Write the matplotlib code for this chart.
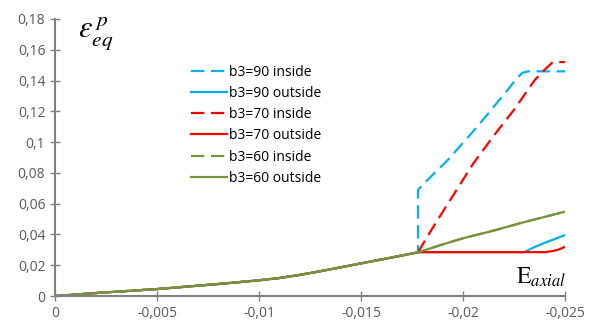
import matplotlib
matplotlib.use("Agg")
import matplotlib.pyplot as plt
from matplotlib.ticker import FixedLocator, FixedFormatter

# ---- data ----
base_x = [0, -0.0022, -0.005, -0.0081, -0.010, -0.011, -0.012, -0.013, -0.014, -0.015, -0.0165, -0.0178]
base_y = [0, 0.0021, 0.0045, 0.0079, 0.0102, 0.0117, 0.0137, 0.0161, 0.0186, 0.0212, 0.0250, 0.0284]

b90_in_x = [-0.0178, -0.0180, -0.0193, -0.0205, -0.0212, -0.0222, -0.02255, -0.0229, -0.0232, -0.0250]
b90_in_y = [0.069, 0.072, 0.089, 0.107, 0.118, 0.134, 0.140, 0.145, 0.146, 0.146]

b90_out_x = [-0.0178, -0.0230, -0.0235, -0.0240, -0.0250]
b90_out_y = [0.0285, 0.0285, 0.0318, 0.0345, 0.0396]

b70_in_x = [-0.0178, -0.0185, -0.0195, -0.0205, -0.0215, -0.0225, -0.0235, -0.0240, -0.0244, -0.0250]
b70_in_y = [0.0285, 0.044, 0.065, 0.086, 0.104, 0.121, 0.140, 0.147, 0.152, 0.152]

b70_out_x = [-0.0178, -0.0240, -0.0244, -0.0247, -0.0250]
b70_out_y = [0.0285, 0.0285, 0.0292, 0.0302, 0.032]

b60_x = [-0.0178, -0.019, -0.020, -0.0215, -0.023, -0.025]
b60_y = [0.0284, 0.0335, 0.0375, 0.0425, 0.0480, 0.0548]

xticks = [0, -0.005, -0.01, -0.015, -0.02, -0.025]
xtick_labels = ["0", "-0,005", "-0,01", "-0,015", "-0,02", "-0,025"]
yticks = [0, 0.02, 0.04, 0.06, 0.08, 0.10, 0.12, 0.14, 0.16, 0.18]
ytick_labels = ["0", "0,02", "0,04", "0,06", "0,08", "0,1", "0,12", "0,14", "0,16", "0,18"]

series = [
    ("b3=90 inside", b90_in_x, b90_in_y, "#00B0F0", True, False),
    ("b3=90 outside", b90_out_x, b90_out_y, "#00B0F0", False, False),
    ("b3=70 inside", b70_in_x, b70_in_y, "#FF0000", True, True),
    ("b3=70 outside", b70_out_x, b70_out_y, "#FF0000", False, False),
    ("b3=60 inside", b60_x, b60_y, "#77933C", True, False),
    ("b3=60 outside", b60_x, b60_y, "#77933C", False, False),
]

plt.rcParams['font.family'] = ['Open Sans', 'DejaVu Sans']
plt.rcParams['mathtext.fontset'] = 'stix'

fig = plt.figure(figsize=(5.93, 3.24), dpi=100)
ax = fig.add_axes([55/593, 28/324, 510/593, 277/324])

for label, xs, ys, color, dashed, from_base in series:
    if from_base:
        px, py = list(xs), list(ys)
    else:
        px = base_x + list(xs)
        py = base_y + list(ys)
    if dashed:
        ax.plot(px, py, color=color, lw=1.6, dashes=(6, 3), label=label)
    else:
        ax.plot(px, py, color=color, lw=1.6, label=label)

ax.set_xlim(0, -0.025)
ax.set_ylim(0, 0.18)
ax.xaxis.set_major_locator(FixedLocator(xticks))
ax.xaxis.set_major_formatter(FixedFormatter(xtick_labels))
ax.yaxis.set_major_locator(FixedLocator(yticks))
ax.yaxis.set_major_formatter(FixedFormatter(ytick_labels))

for s in ["top", "right"]:
    ax.spines[s].set_visible(False)
for s in ["left", "bottom"]:
    ax.spines[s].set_color("#808080")
    ax.spines[s].set_linewidth(1.5)
ax.tick_params(direction="inout", length=7, width=1, color="#808080",
               labelcolor="#595959", labelsize=10)
ax.tick_params(axis="x", pad=4)

leg = ax.legend(loc="upper left", bbox_to_anchor=(130/510, 1 - 40/277), frameon=False,
                fontsize=10, handlelength=2.6, handletextpad=0.2, labelspacing=0.45,
                borderaxespad=0)

fig.text(78/593, 1 - 33/324, r"$\varepsilon_{eq}^{\,p}$", fontsize=22, va="center", ha="left")
fig.text(516/593, 1 - 284/324, r"$\mathrm{E}_{axial}$", fontsize=17, va="baseline", ha="left")

fig.savefig("out.png", dpi=100)
